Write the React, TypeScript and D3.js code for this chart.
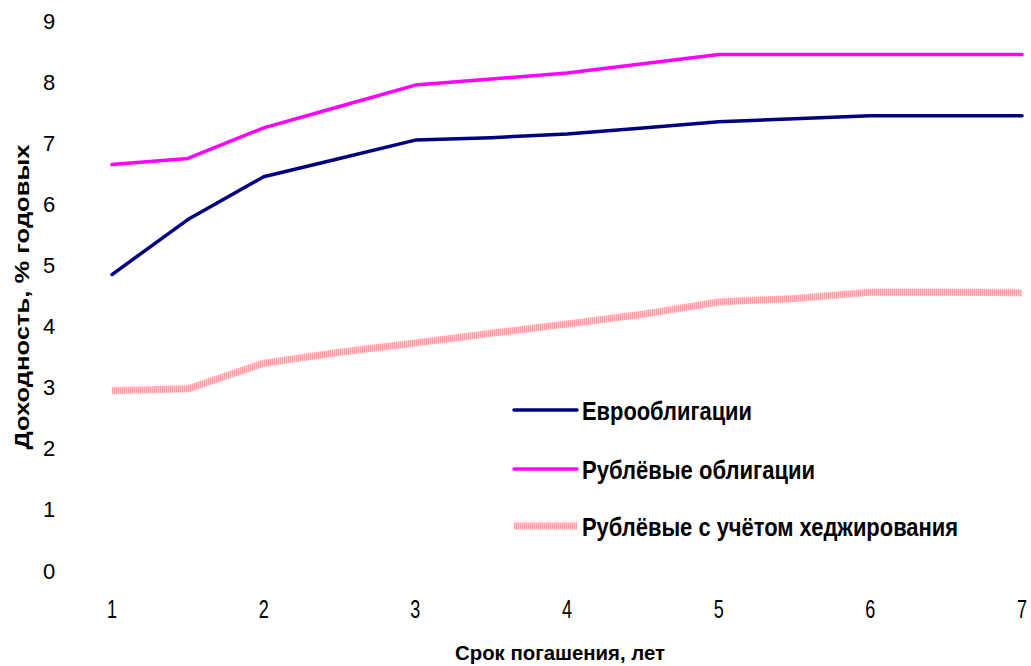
import React from "react";
import * as d3 from "d3";

// Maturity in years and yields, % per annum
const maturities = [1, 1.5, 2, 2.5, 3, 3.5, 4, 4.5, 5, 5.5, 6, 6.5, 7];
const euroBonds = [4.9, 5.8, 6.5, 6.8, 7.1, 7.14, 7.2, 7.3, 7.4, 7.45, 7.5, 7.5, 7.5];
const rubleBonds = [6.7, 6.8, 7.3, 7.65, 8.0, 8.1, 8.2, 8.35, 8.5, 8.5, 8.5, 8.5, 8.5];
const rubleHedged = [3.0, 3.03, 3.45, 3.63, 3.78, 3.94, 4.09, 4.25, 4.45, 4.51, 4.61, 4.61, 4.6];

const xTicks = [1, 2, 3, 4, 5, 6, 7];
const yTicks = [0, 1, 2, 3, 4, 5, 6, 7, 8, 9];

const seriesNames = ["Еврооблигации", "Рублёвые облигации", "Рублёвые с учётом хеджирования"];
const xTitle = "Срок погашения, лет";
const yTitle = "Доходность, % годовых";

const W = 1031;
const H = 666;
const FONT = "'Liberation Sans', Arial, sans-serif";

export default function App() {
  const x = d3.scaleLinear().domain([1, 7]).range([112, 1022]);
  const y = d3.scaleLinear().domain([0, 9]).range([574, 24]);

  const line = d3
    .line<number>()
    .x((_, i) => x(maturities[i]))
    .y((d) => y(d));

  const series = [
    { name: seriesNames[0], values: euroBonds, stroke: "#000080", width: 3.5 },
    { name: seriesNames[1], values: rubleBonds, stroke: "#ff00ff", width: 3.5 },
    { name: seriesNames[2], values: rubleHedged, stroke: "url(#hatch)", width: 7 },
  ];

  const legendY = [410, 469, 526];
  const legendWidths = [170, 233, 376];

  return (
    <svg
      width={W}
      height={H}
      style={{ position: "absolute", left: 0, top: 0, background: "#fff" }}
      fontFamily={FONT}
    >
      <defs>
        <pattern id="hatch" patternUnits="userSpaceOnUse" width={2} height={2}>
          <rect x={0} y={0} width={2} height={2} fill="#ffd0d0" />
          <rect x={0} y={0} width={1} height={2} fill="#ff9c9c" />
        </pattern>
      </defs>

      {/* y tick labels */}
      {yTicks.map((t) => (
        <text
          key={t}
          x={49}
          y={y(t) - 3}
          textAnchor="middle"
          dominantBaseline="central"
          fontSize={22}
          fill="#000"
        >
          {t}
        </text>
      ))}

      {/* x tick labels */}
      {xTicks.map((t) => (
        <text
          key={t}
          x={x(t)}
          y={609}
          textAnchor="middle"
          dominantBaseline="central"
          fontSize={25}
          fill="#000"
          transform={`translate(${x(t)},0) scale(0.72,1) translate(${-x(t)},0)`}
        >
          {t}
        </text>
      ))}

      {/* axis titles */}
      <text
        x={560}
        y={652}
        textAnchor="middle"
        dominantBaseline="central"
        fontSize={21}
        fontWeight="bold"
        textLength={210}
        lengthAdjust="spacingAndGlyphs"
      >
        {xTitle}
      </text>
      <text
        transform="translate(22,297) rotate(-90)"
        textAnchor="middle"
        dominantBaseline="central"
        fontSize={20}
        fontWeight="bold"
        textLength={305}
        lengthAdjust="spacingAndGlyphs"
      >
        {yTitle}
      </text>

      {/* series lines */}
      {series.map((s) => (
        <path
          key={s.name}
          d={line(s.values) ?? ""}
          fill="none"
          stroke={s.stroke}
          strokeWidth={s.width}
          strokeLinejoin="round"
          strokeLinecap={s.stroke.startsWith("url") ? "butt" : "round"}
        />
      ))}

      {/* legend */}
      {series.map((s, i) => (
        <g key={s.name}>
          <line
            x1={514}
            x2={577}
            y1={legendY[i]}
            y2={legendY[i]}
            stroke={s.stroke}
            strokeWidth={s.width}
            strokeLinecap={s.stroke.startsWith("url") ? "butt" : "round"}
          />
          <text
            x={582}
            y={legendY[i] + 1}
            dominantBaseline="central"
            fontSize={25}
            fontWeight="bold"
            textLength={legendWidths[i]}
            lengthAdjust="spacingAndGlyphs"
          >
            {s.name}
          </text>
        </g>
      ))}
    </svg>
  );
}
